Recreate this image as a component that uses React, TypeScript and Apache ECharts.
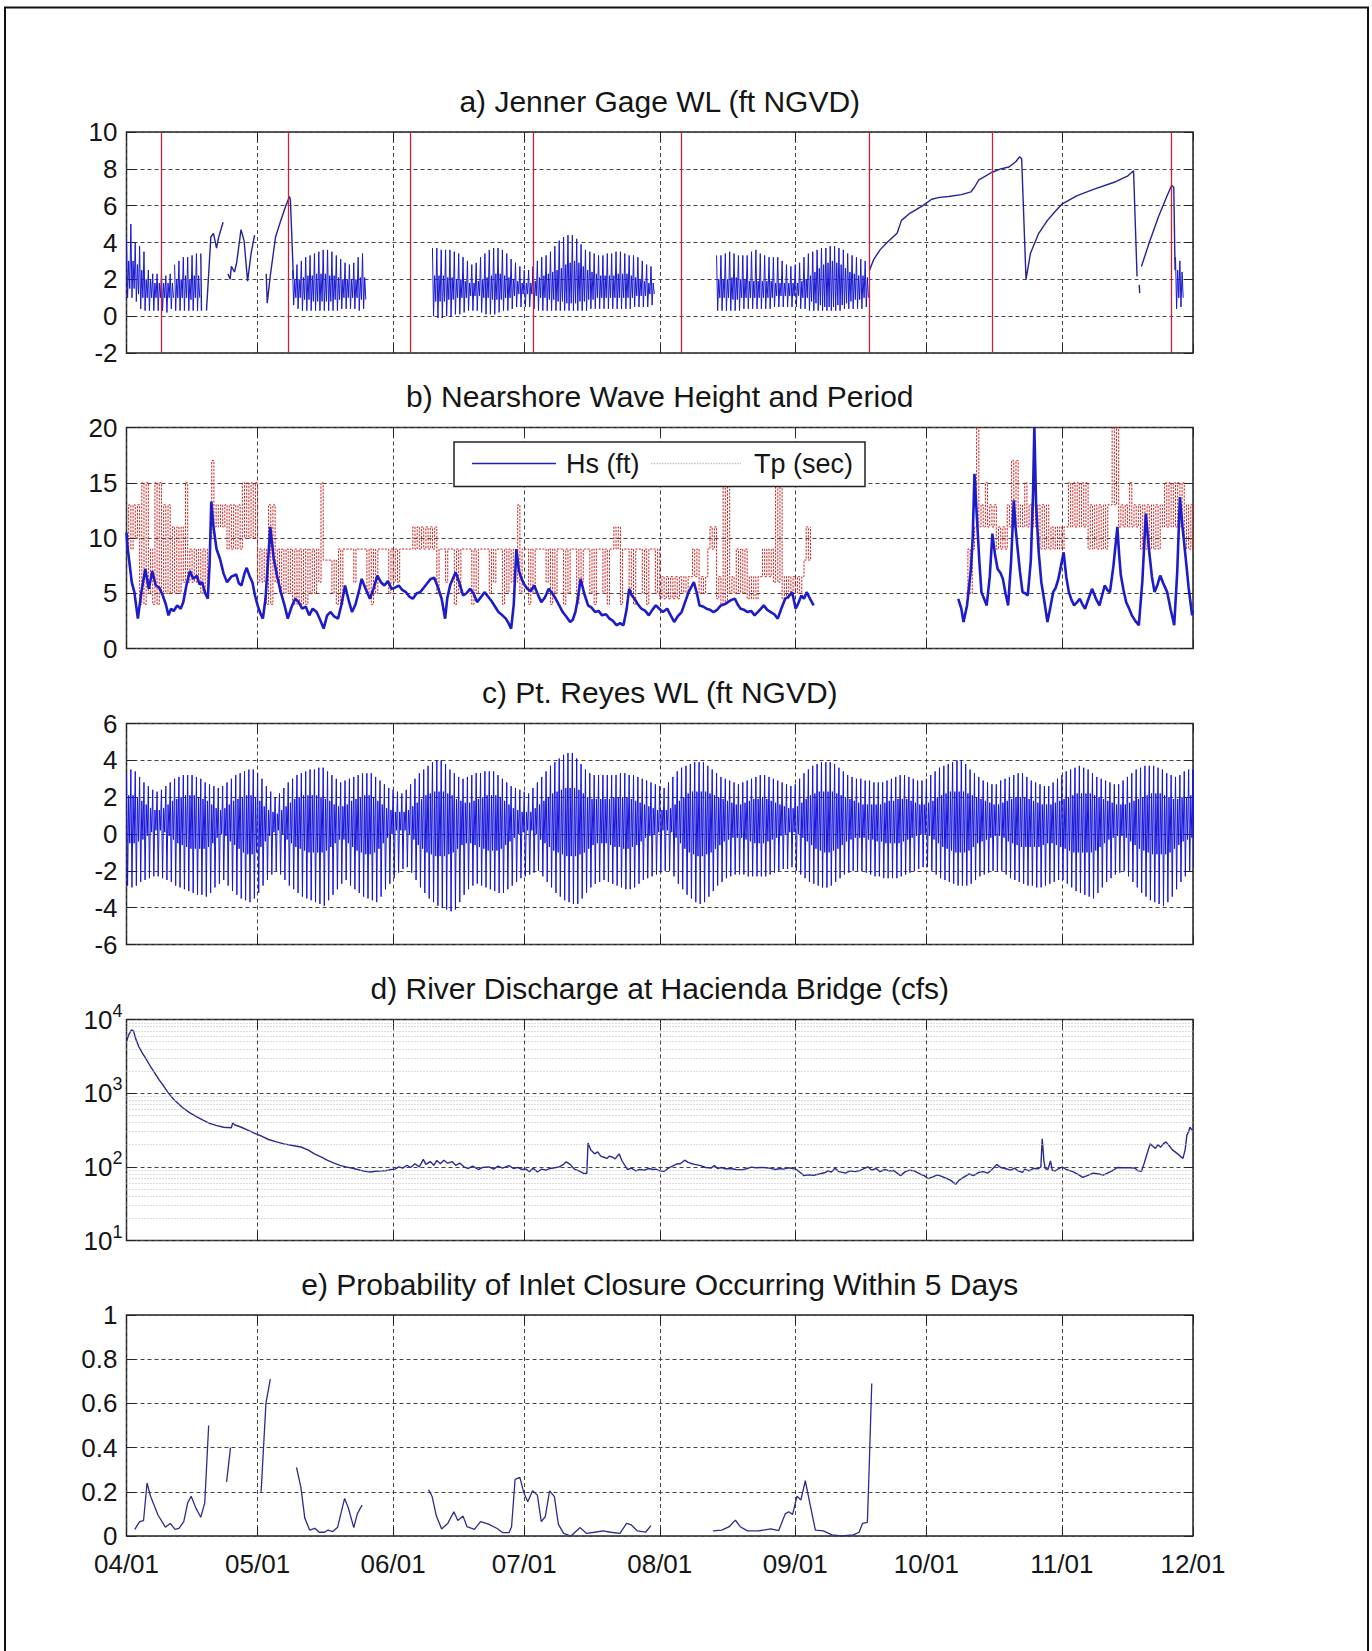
import React, { useEffect, useRef } from 'react';
import * as echarts from 'echarts';

const N = null;
// x axis = days since 04/01
const monthDays = [0, 30, 61, 91, 122, 153, 183, 214, 244];
const monthLabels = ['04/01', '05/01', '06/01', '07/01', '08/01', '09/01', '10/01', '11/01', '12/01'];
const panelTitles = [
  'a) Jenner Gage WL (ft NGVD)',
  'b) Nearshore Wave Height and Period',
  'c) Pt. Reyes WL (ft NGVD)',
  'd) River Discharge at Hacienda Bridge (cfs)',
  'e) Probability of Inlet Closure Occurring Within 5 Days',
];
const breachDays = [8, 37, 65, 93, 127, 170, 198, 239];

// ---- a) Jenner gage: tidal stretches (per day: higher high, lower low, lower high, higher low)
const jennerTideStart = [0, 11, 38, 70, 135, 240];
const jennerHH = [
  [4.2, 5.0, 4.0, 3.8, 3.5, 2.5, 2.3, 2.3, 2.3, 2.2, 2.3],
  [2.8, 3.0, 3.2, 3.2, 3.3, 3.4],
  [2.5, 2.8, 3.0, 3.2, 3.3, 3.4, 3.5, 3.6, 3.6, 3.5, 3.3, 3.1, 2.9, 2.8, 2.9, 3.2, 3.4],
  [3.7, 3.7, 3.6, 3.6, 3.6, 3.5, 3.4, 3.2, 3.0, 2.8, 2.9, 3.2, 3.4, 3.6, 3.7, 3.7, 3.6, 3.4, 3.1, 2.9,
   2.7, 2.5, 2.5, 2.7, 3.0, 3.2, 3.3, 3.5, 3.8, 4.1, 4.3, 4.4, 4.4, 4.2, 3.9, 3.6, 3.5, 3.4, 3.3, 3.3,
   3.4, 3.4, 3.5, 3.5, 3.4, 3.3, 3.3, 3.2, 3.0, 2.8, 2.7],
  [3.3, 3.3, 3.4, 3.5, 3.4, 3.3, 3.3, 3.3, 3.5, 3.6, 3.4, 3.3, 3.2, 3.2, 3.2, 3.0, 2.8, 2.7, 2.8, 2.9,
   3.2, 3.4, 3.5, 3.6, 3.7, 3.7, 3.8, 3.8, 3.7, 3.6, 3.4, 3.3, 3.2, 3.1, 3.0],
  [3.2, 3.0],
];
const jennerLL = [
  [1.0, 1.0, 0.8, 0.4, 0.3, 0.3, 0.3, 0.3, 0.3, 0.2, 0.4],
  [0.3, 0.3, 0.3, 0.3, 0.3, 0.3],
  [0.6, 0.4, 0.3, 0.3, 0.3, 0.3, 0.3, 0.3, 0.3, 0.3, 0.3, 0.4, 0.4, 0.4, 0.4, 0.3, 0.4],
  [0.0, -0.1, -0.1, 0.0, 0.0, 0.1, 0.1, 0.2, 0.3, 0.3, 0.3, 0.2, 0.1, 0.1, 0.1, 0.2, 0.3, 0.3, 0.4, 0.5,
   0.5, 0.5, 0.5, 0.4, 0.3, 0.3, 0.3, 0.3, 0.3, 0.3, 0.3, 0.3, 0.3, 0.3, 0.3, 0.3, 0.4, 0.4, 0.4, 0.4,
   0.4, 0.4, 0.4, 0.4, 0.4, 0.4, 0.5, 0.5, 0.5, 0.5, 0.6],
  [0.3, 0.3, 0.3, 0.3, 0.3, 0.3, 0.4, 0.4, 0.4, 0.4, 0.4, 0.4, 0.4, 0.5, 0.5, 0.5, 0.5, 0.5, 0.5, 0.4,
   0.4, 0.3, 0.3, 0.3, 0.3, 0.3, 0.3, 0.3, 0.3, 0.4, 0.4, 0.4, 0.4, 0.4, 0.5],
  [0.4, 0.5],
];
const jennerLH = [
  [3.0, 3.0, 2.8, 2.5, 2.0, 2.0, 1.8, 1.8, 1.8, 1.8, 1.8],
  [2.0, 2.0, 2.2, 2.0, 2.2, 2.2],
  [2.0, 2.0, 2.1, 2.2, 2.2, 2.3, 2.3, 2.3, 2.2, 2.2, 2.1, 2.0, 2.0, 2.0, 2.0, 2.1, 2.1],
  [2.2, 2.2, 2.2, 2.1, 2.1, 2.0, 2.0, 1.9, 1.8, 1.8, 1.9, 2.0, 2.1, 2.2, 2.3, 2.3, 2.2, 2.1, 2.0, 1.9,
   1.8, 1.8, 1.8, 1.9, 2.1, 2.2, 2.3, 2.4, 2.5, 2.6, 2.8, 2.9, 3.0, 2.9, 2.7, 2.5, 2.4, 2.3, 2.2, 2.2,
   2.2, 2.2, 2.3, 2.3, 2.3, 2.2, 2.1, 2.0, 1.9, 1.8, 1.8],
  [2.0, 2.0, 2.0, 2.1, 2.1, 2.0, 2.0, 1.9, 1.9, 1.9, 1.9, 1.9, 1.9, 1.8, 1.8, 1.8, 1.8, 1.8, 1.8, 1.9,
   2.0, 2.2, 2.4, 2.6, 2.8, 2.9, 3.0, 2.9, 2.8, 2.6, 2.4, 2.3, 2.2, 2.2, 2.1],
  [2.5, 2.4],
];
const jennerHL = [
  [1.5, 1.5, 1.2, 1.0, 1.0, 1.0, 1.0, 1.0, 1.0, 1.0, 1.0],
  [1.0, 1.0, 1.0, 0.9, 1.0, 1.0],
  [1.0, 1.0, 0.9, 0.9, 0.8, 0.8, 0.8, 0.8, 0.8, 0.9, 0.9, 1.0, 1.0, 1.0, 1.0, 0.9, 0.9],
  [0.8, 0.8, 0.8, 0.9, 0.9, 1.0, 1.0, 1.0, 1.1, 1.1, 1.1, 1.0, 1.0, 0.9, 0.9, 0.9, 1.0, 1.0, 1.1, 1.2,
   1.2, 1.2, 1.2, 1.1, 1.0, 1.0, 0.9, 0.9, 0.8, 0.8, 0.7, 0.7, 0.7, 0.8, 0.8, 0.9, 0.9, 1.0, 1.0, 1.0,
   1.0, 1.0, 1.0, 1.0, 1.0, 1.0, 1.1, 1.1, 1.1, 1.2, 1.2],
  [1.0, 1.0, 1.0, 0.9, 0.9, 1.0, 1.0, 1.0, 1.0, 1.0, 1.0, 1.0, 1.0, 1.1, 1.1, 1.1, 1.1, 1.1, 1.1, 1.0,
   1.0, 0.8, 0.7, 0.6, 0.5, 0.5, 0.5, 0.6, 0.6, 0.7, 0.8, 0.9, 0.9, 1.0, 1.0],
  [1.0, 1.0],
];
// a) Jenner gage: non-tidal stretches [day, ft]
const jennerDrift = [
  [[17.0, 3.4], [17.15, 0.3]],
  [[18.3, 0.3], [19.3, 4.3], [19.9, 4.5], [20.6, 3.7], [21.1, 4.3], [22.1, 5.1]],
  [[23.2, 2.3], [23.7, 2.0], [24.0, 2.7], [24.7, 2.4], [25.2, 2.9], [26.2, 4.7], [26.9, 4.1], [27.7, 1.9], [28.5, 3.4], [29.3, 4.4]],
  [[31.96, 2.3], [32.2, 0.7], [32.9, 2.2], [34.1, 4.3], [35.3, 5.2], [36.45, 6.0], [37.3, 6.5], [37.5, 6.3], [38.2, 2.0]],
  [[170.0, 2.5], [171, 3.1], [172.4, 3.6], [174, 4.0], [176.3, 4.5], [177.3, 5.2], [179.3, 5.6], [182.2, 6.0], [184.2, 6.35],
   [186, 6.45], [188.1, 6.5], [191, 6.6], [193.2, 6.75], [194, 7.0], [195, 7.4], [196.5, 7.6], [197.9, 7.8], [200, 8.0],
   [201.9, 8.1], [203.5, 8.4], [204.3, 8.65], [204.8, 8.55], [205.8, 2.0], [206.8, 3.4], [208.7, 4.5], [210.7, 5.2],
   [212.5, 5.7], [214.1, 6.1], [217.5, 6.55], [221.4, 6.9], [226.3, 7.3], [229, 7.6], [230.4, 7.9], [231.2, 2.15]],
  [[231.7, 1.7], [231.8, 1.25]],
  [[232.2, 2.7], [234, 4.0], [236.1, 5.4], [238, 6.5], [239.1, 7.1], [239.6, 7.0], [239.9, 2.5]],
];

// ---- b) waves
const hsPart1 = [
  [0, 10.5], [0.2, 9.3], [0.6, 8.0], [1.2, 6.0], [1.8, 5.1], [2.6, 2.7], [3.4, 5.1], [4.3, 7.2], [5.1, 5.4], [5.9, 7.0],
  [6.7, 5.7], [7.5, 5.5], [8.3, 4.8], [9.0, 4.0], [9.6, 3.0], [10.2, 3.6], [10.8, 3.4], [11.6, 3.9], [12.4, 3.6], [13.0, 4.2],
  [13.7, 5.7], [14.5, 7.0], [15.3, 6.3], [16.1, 6.6], [16.7, 5.8], [17.3, 6.0], [18.0, 5.0], [18.6, 4.5], [19.0, 7.5], [19.4, 13.3],
  [19.9, 11.0], [20.6, 9.0], [21.4, 8.1], [22.2, 6.8], [23.0, 6.0], [24.0, 6.5], [25.1, 6.7], [25.7, 5.9], [26.3, 5.7], [27.0, 6.8],
  [27.5, 7.3], [28.2, 6.5], [28.8, 6.0], [29.4, 4.8], [30.0, 3.9], [30.6, 3.2], [31.2, 2.7], [31.8, 4.5], [32.4, 8.0], [32.9, 11.0],
  [33.3, 9.5], [33.7, 8.1], [34.5, 6.5], [35.3, 5.1], [36.1, 4.0], [36.9, 2.7], [37.8, 3.8], [38.6, 4.5], [39.4, 4.2], [40.2, 3.6],
  [41.0, 3.8], [41.8, 3.0], [42.6, 3.6], [43.5, 3.3], [44.3, 2.6], [45.1, 1.8], [45.9, 3.0], [46.7, 3.3], [47.5, 2.9], [48.4, 2.7],
  [49.2, 4.0], [50.0, 5.7], [50.8, 4.4], [51.6, 3.3], [52.4, 4.0], [53.3, 5.4], [53.8, 6.3], [54.6, 5.5], [55.7, 4.5], [56.5, 5.4],
  [57.4, 6.6], [58.2, 6.0], [59.0, 5.7], [59.8, 6.1], [60.6, 5.4], [61.4, 5.5], [62.3, 5.7], [63.1, 5.3], [63.9, 5.1], [64.7, 4.7],
  [65.5, 4.5], [66.4, 5.0], [67.2, 5.1], [68.0, 5.5], [68.8, 5.9], [69.6, 6.3], [70.4, 6.4], [71.2, 5.6], [72.1, 4.5], [72.9, 2.7],
  [73.4, 4.6], [74.1, 5.8], [75.3, 6.9], [76.1, 6.0], [77.0, 4.8], [77.8, 5.0], [78.6, 5.4], [79.4, 5.0], [80.2, 4.2], [81.0, 4.6],
  [81.9, 5.1], [82.7, 4.7], [83.5, 4.3], [84.3, 3.8], [85.1, 3.3], [86.0, 3.0], [86.8, 2.7], [87.4, 2.3], [88.0, 1.8], [88.6, 4.0],
  [89.2, 9.0], [89.8, 7.0], [90.4, 6.3], [91.0, 5.8], [91.7, 5.4], [92.5, 5.2], [93.3, 5.7], [94.1, 4.9], [94.9, 4.2], [95.7, 4.6],
  [96.6, 5.4], [97.4, 5.0], [98.2, 4.5], [99.0, 3.9], [99.8, 3.3], [100.6, 2.9], [101.5, 2.4], [102.1, 2.6], [102.7, 3.3], [103.3, 4.6],
  [103.9, 6.3], [104.7, 5.0], [105.6, 3.9], [106.4, 3.7], [107.2, 3.3], [108.0, 3.4], [108.8, 3.0], [109.7, 3.1], [110.5, 2.7], [111.3, 2.5],
  [112.1, 2.1], [112.9, 2.3], [113.7, 2.1], [114.4, 3.5], [115.0, 5.4], [115.6, 4.8], [116.2, 4.5], [117.0, 4.0], [117.8, 3.6], [118.7, 3.4],
  [119.5, 3.0], [120.3, 3.5], [121.1, 3.9], [121.9, 3.6], [122.7, 3.3], [123.7, 3.6], [124.5, 3.0], [125.3, 2.4], [126.1, 2.9], [127.0, 3.3],
  [127.8, 4.2], [128.6, 5.1], [129.8, 6.0], [130.5, 5.0], [131.1, 3.9], [131.9, 3.8], [132.7, 3.6], [133.5, 3.5], [134.3, 3.3], [135.1, 3.5],
  [136.0, 3.9], [136.8, 4.0], [137.6, 4.2], [138.4, 4.4], [139.2, 4.5], [139.8, 4.0], [140.5, 3.6], [141.3, 3.5], [142.1, 3.3], [142.9, 3.4],
  [143.7, 3.0], [144.7, 3.4], [145.8, 3.9], [146.6, 3.5], [147.4, 3.3], [148.2, 3.1], [149.0, 2.7], [149.8, 3.6], [150.7, 4.5], [151.5, 4.7],
  [152.3, 5.1], [153.1, 3.6], [153.7, 4.1], [154.4, 4.8], [155.0, 4.5], [155.6, 5.1], [156.4, 4.5], [157.2, 3.9],
];
const hsPart2 = [
  [190.3, 4.5], [191.0, 3.6], [191.5, 2.4], [192.3, 3.9], [193.2, 7.2], [193.6, 10.0], [194.0, 15.8], [194.6, 11.6], [195.1, 8.0], [195.6, 5.1],
  [196.2, 4.5], [196.8, 3.9], [197.5, 6.5], [198.1, 10.4], [198.7, 8.5], [199.3, 7.2], [200.0, 6.8], [200.5, 6.3], [201.1, 5.0], [201.7, 3.9],
  [202.4, 8.0], [203.0, 13.4], [203.4, 11.0], [203.8, 9.3], [204.4, 7.0], [205.0, 5.1], [205.6, 5.0], [206.2, 4.8], [206.9, 8.0], [207.4, 14.0],
  [207.7, 20.0], [208.1, 13.0], [208.7, 8.7], [209.3, 6.0], [209.9, 4.5], [210.7, 2.4], [211.4, 3.8], [212.0, 5.1], [212.6, 5.5], [213.2, 6.3],
  [213.8, 7.5], [214.4, 8.7], [215.0, 6.5], [215.6, 5.1], [216.2, 4.4], [216.8, 3.9], [217.5, 4.2], [218.1, 4.5], [218.7, 4.0], [219.3, 3.6],
  [220.1, 4.5], [220.9, 5.4], [221.8, 4.5], [222.6, 3.9], [223.2, 4.8], [223.8, 5.7], [224.4, 5.3], [225.0, 5.1], [225.8, 7.5], [226.7, 11.0],
  [227.1, 8.5], [227.5, 6.6], [228.1, 5.3], [228.7, 4.2], [229.4, 3.6], [230.0, 3.0], [230.8, 2.5], [231.6, 2.1], [232.4, 6.0], [233.2, 12.2],
  [233.6, 10.5], [234.0, 8.7], [234.6, 6.5], [235.2, 5.1], [235.9, 5.8], [236.5, 6.6], [237.3, 5.8], [238.1, 5.1], [238.9, 3.5], [239.7, 2.1],
  [240.4, 7.0], [241.0, 13.7], [241.6, 11.0], [242.2, 8.7], [243.0, 5.5], [243.8, 3.0], [244, 3.4],
];
// Tp per day: the two levels it switched between (equal = steady)
const tpHigh = [
  13, 13, 13, 15, 15, 9, 15, 15, 13, 13, 11, 11, 11, 15, 9, 9, 9, 9, 9, 17,
  13, 13, 13, 13, 13, 13, 15, 15, 15, 15, 9, 9, 13, 13, 9, 9, 9, 9, 9, 9,
  9, 9, 9, 9, 15, 8, 8, 8, 9, 9, 9, 9, 9, 9, 9, 9, 9, 9, 9, 9,
  9, 9, 9, 9, 9, 11, 11, 11, 11, 11, 11, 9, 9, 9, 9, 9, 9, 9, 9, 9,
  9, 9, 9, 9, 9, 9, 9, 9, 9, 13, 9, 9, 9, 9, 9, 9, 9, 9, 9, 9,
  9, 9, 9, 9, 9, 9, 9, 9, 9, 9, 9, 11, 11, 9, 9, 9, 9, 9, 9, 9,
  9, 9, 6.5, 6.5, 6.5, 6.5, 6.5, 6.5, 6.5, 9, 9, 6.5, 6.5, 11, 11, 6.5, 15, 15, 6.5, 9,
  9, 9, 6.5, 6.5, 6.5, 9, 9, 9, 15, 15, 6.5, 6.5, 6.5, 6.5, 6.5, 11, 11,
  N, N, N, N, N, N, N, N, N, N, N, N, N, N, N, N, N, N, N, N, N, N, N, N, N, N, N, N, N, N, N, N, N, N, N,
  9, 9, 20, 13, 15, 13, 13, 11, 11, 13, 17, 17, 13, 15, 13, 13, 13, 13,
  13, 11, 11, 11, 11, 15, 15, 15, 15, 15, 13, 13, 13, 13, 13, 20, 20, 13, 13, 15,
  13, 13, 13, 13, 13, 13, 13, 15, 15, 15, 15, 15, 13, 13, 13,
];
const tpLow = [
  9, 9, 10, 4, 4, 5, 4, 4, 5, 5, 5, 5, 5, 6, 6, 6, 6, 5, 5, 10,
  11, 11, 11, 9, 9, 9, 9, 10, 10, 10, 6, 6, 4, 4, 6, 5, 5, 5, 4, 4,
  4, 4, 5, 5, 6, 8, 8, 5, 4, 4, 9, 9, 6, 9, 9, 5, 4, 5, 9, 9,
  5, 6, 6, 9, 9, 9, 9, 9, 9, 9, 9, 5, 9, 6, 9, 4, 5, 9, 9, 4,
  5, 9, 9, 5, 6, 9, 4, 5, 6, 6, 5, 9, 4, 5, 9, 9, 6, 4, 5, 9,
  4, 5, 9, 4, 6, 9, 5, 4, 9, 5, 4, 9, 9, 4, 9, 5, 4, 9, 5, 4,
  9, 5, 4.5, 4.5, 4.5, 4.5, 4.5, 5, 5, 6.5, 6.5, 5, 5, 9, 9, 4.5, 4, 4, 5, 5,
  5, 5, 4.5, 4.5, 4.5, 6.5, 6.5, 6.5, 6, 6, 4.5, 4.5, 5, 5, 5, 8, 8,
  N, N, N, N, N, N, N, N, N, N, N, N, N, N, N, N, N, N, N, N, N, N, N, N, N, N, N, N, N, N, N, N, N, N, N,
  5, 5, 11, 11, 11, 11, 11, 9, 9, 9, 11, 11, 11, 11, 11, 11, 11, 9,
  9, 9, 9, 9, 9, 11, 11, 11, 11, 11, 9, 9, 9, 9, 9, 13, 13, 11, 11, 11,
  11, 11, 9, 9, 9, 9, 9, 11, 11, 11, 11, 11, 9, 9, 9,
];

// ---- c) Pt. Reyes tide, per day
const reyesHH = [
  3.3, 3.5, 3.4, 3.1, 2.8, 2.6, 2.4, 2.3, 2.4, 2.6, 2.8, 3.0, 3.1, 3.2, 3.2, 3.2, 3.1, 3.0, 2.8, 2.7,
  2.6, 2.5, 2.6, 2.8, 3.0, 3.2, 3.3, 3.4, 3.5, 3.5, 3.3, 3.0, 2.6, 2.3, 2.0, 2.2, 2.5, 2.8, 3.0, 3.2,
  3.3, 3.4, 3.5, 3.5, 3.6, 3.6, 3.4, 3.2, 3.0, 2.8, 2.9, 3.0, 3.1, 3.2, 3.3, 3.3, 3.3, 3.1, 2.9, 2.7,
  2.5, 2.4, 2.3, 2.2, 2.4, 2.7, 3.0, 3.3, 3.5, 3.7, 3.9, 4.0, 4.0, 3.8, 3.5, 3.3, 3.1, 3.0, 3.1, 3.2,
  3.3, 3.3, 3.4, 3.4, 3.4, 3.2, 3.0, 2.8, 2.6, 2.5, 2.4, 2.3, 2.2, 2.5, 2.8, 3.1, 3.4, 3.7, 3.9, 4.1,
  4.3, 4.4, 4.4, 4.1, 3.8, 3.5, 3.3, 3.2, 3.2, 3.2, 3.2, 3.2, 3.2, 3.3, 3.3, 3.2, 3.2, 3.1, 3.0, 2.9,
  2.8, 2.7, 2.6, 2.5, 2.8, 3.1, 3.4, 3.6, 3.7, 3.8, 3.9, 3.9, 3.9, 3.7, 3.5, 3.3, 3.1, 3.0, 2.9, 2.8,
  2.7, 2.8, 2.9, 3.0, 3.1, 3.2, 3.2, 3.1, 3.0, 2.9, 2.8, 2.7, 2.6, 2.7, 3.0, 3.3, 3.5, 3.7, 3.8, 3.9,
  3.9, 3.9, 3.8, 3.6, 3.4, 3.2, 3.1, 3.0, 3.0, 2.9, 2.9, 2.8, 2.8, 2.8, 2.9, 3.0, 3.1, 3.2, 3.2, 3.1,
  3.0, 2.9, 2.9, 3.0, 3.2, 3.4, 3.6, 3.7, 3.8, 3.9, 4.0, 4.0, 3.8, 3.5, 3.3, 3.1, 2.9, 2.8, 2.7, 2.7,
  2.9, 3.0, 3.1, 3.2, 3.3, 3.3, 3.1, 2.9, 2.8, 2.7, 2.6, 2.6, 2.8, 3.0, 3.2, 3.4, 3.5, 3.6, 3.7, 3.6,
  3.5, 3.3, 3.1, 3.0, 2.9, 2.8, 2.7, 2.7, 2.9, 3.1, 3.3, 3.5, 3.6, 3.7, 3.7, 3.7, 3.6, 3.5, 3.3, 3.2,
  3.1, 3.2, 3.4, 3.5, 3.5,
];
const reyesLL = [
  -2.8, -2.9, -2.8, -2.6, -2.5, -2.4, -2.3, -2.3, -2.4, -2.5, -2.6, -2.8, -2.9, -3.0, -3.1, -3.2, -3.3, -3.3, -3.4, -3.2,
  -2.9, -2.7, -2.5, -2.8, -3.1, -3.3, -3.5, -3.6, -3.7, -3.5, -3.2, -2.8, -2.5, -2.2, -2.0, -2.2, -2.5, -2.8, -3.0, -3.2,
  -3.4, -3.5, -3.6, -3.7, -3.8, -3.9, -3.6, -3.3, -3.0, -2.7, -2.5, -2.8, -3.0, -3.2, -3.4, -3.5, -3.6, -3.7, -3.4, -3.0,
  -2.7, -2.4, -2.1, -1.9, -1.8, -2.1, -2.5, -2.9, -3.2, -3.5, -3.7, -3.9, -4.0, -4.1, -4.2, -4.1, -3.7, -3.3, -3.0, -2.8,
  -2.7, -2.8, -2.9, -3.0, -3.1, -3.2, -3.2, -3.0, -2.8, -2.6, -2.4, -2.3, -2.2, -2.1, -2.0, -2.3, -2.6, -2.9, -3.2, -3.4,
  -3.6, -3.7, -3.8, -3.8, -3.5, -3.2, -2.9, -2.7, -2.6, -2.5, -2.6, -2.7, -2.8, -2.9, -3.0, -3.0, -2.9, -2.7, -2.5, -2.4,
  -2.3, -2.2, -2.1, -2.0, -2.0, -2.3, -2.7, -3.0, -3.3, -3.5, -3.7, -3.8, -3.7, -3.4, -3.1, -2.8, -2.6, -2.4, -2.3, -2.2,
  -2.2, -2.2, -2.3, -2.3, -2.3, -2.3, -2.3, -2.2, -2.1, -2.0, -1.9, -1.9, -1.8, -2.0, -2.2, -2.4, -2.6, -2.7, -2.8, -2.9,
  -2.9, -2.8, -2.6, -2.4, -2.2, -2.1, -2.0, -2.0, -2.0, -2.1, -2.2, -2.3, -2.3, -2.4, -2.4, -2.4, -2.4, -2.3, -2.2, -2.1,
  -2.0, -1.9, -1.8, -1.8, -2.0, -2.2, -2.4, -2.5, -2.6, -2.7, -2.8, -2.8, -2.8, -2.7, -2.5, -2.3, -2.2, -2.1, -2.0, -2.0,
  -2.0, -2.2, -2.4, -2.5, -2.6, -2.7, -2.8, -2.8, -2.9, -2.9, -2.8, -2.7, -2.6, -2.5, -2.5, -2.7, -2.9, -3.1, -3.2, -3.3,
  -3.4, -3.5, -3.2, -2.9, -2.6, -2.4, -2.2, -2.1, -2.0, -2.3, -2.6, -2.9, -3.2, -3.4, -3.6, -3.7, -3.8, -3.9, -3.7, -3.4,
  -3.0, -2.6, -2.3, -2.0, -1.8,
];
const reyesLH = [
  2.1, 2.1, 2.0, 1.8, 1.6, 1.4, 1.3, 1.3, 1.4, 1.6, 1.8, 1.9, 2.0, 2.1, 2.1, 2.1, 2.0, 1.9, 1.8, 1.6,
  1.4, 1.3, 1.4, 1.6, 1.8, 1.9, 2.0, 2.1, 2.1, 2.0, 1.8, 1.5, 1.3, 1.2, 1.1, 1.3, 1.5, 1.7, 1.9, 2.0,
  2.1, 2.1, 2.1, 2.1, 2.0, 1.9, 1.8, 1.6, 1.5, 1.5, 1.6, 1.8, 1.9, 2.0, 2.1, 2.1, 2.0, 1.8, 1.6, 1.4,
  1.3, 1.2, 1.2, 1.2, 1.3, 1.5, 1.7, 1.9, 2.1, 2.2, 2.3, 2.3, 2.3, 2.2, 2.1, 1.9, 1.8, 1.7, 1.7, 1.8,
  1.9, 2.0, 2.1, 2.1, 2.1, 2.0, 1.8, 1.6, 1.4, 1.3, 1.2, 1.2, 1.2, 1.4, 1.6, 1.8, 2.0, 2.2, 2.3, 2.4,
  2.5, 2.5, 2.5, 2.4, 2.2, 2.0, 1.9, 1.9, 1.9, 1.9, 1.9, 2.0, 2.0, 2.0, 2.0, 1.9, 1.8, 1.7, 1.6, 1.5,
  1.4, 1.3, 1.3, 1.3, 1.4, 1.6, 1.8, 2.0, 2.2, 2.3, 2.3, 2.3, 2.3, 2.2, 2.1, 2.0, 1.9, 1.8, 1.7, 1.6,
  1.6, 1.7, 1.8, 1.9, 1.9, 2.0, 1.9, 1.8, 1.7, 1.6, 1.5, 1.4, 1.4, 1.5, 1.7, 1.9, 2.1, 2.2, 2.3, 2.3,
  2.3, 2.3, 2.2, 2.1, 2.0, 1.9, 1.8, 1.7, 1.6, 1.6, 1.6, 1.6, 1.6, 1.7, 1.8, 1.8, 1.9, 1.9, 1.9, 1.8,
  1.7, 1.6, 1.6, 1.7, 1.8, 2.0, 2.1, 2.2, 2.3, 2.3, 2.3, 2.3, 2.2, 2.1, 2.0, 1.9, 1.8, 1.7, 1.6, 1.6,
  1.7, 1.8, 1.9, 2.0, 2.0, 2.0, 1.9, 1.8, 1.7, 1.6, 1.6, 1.6, 1.7, 1.8, 1.9, 2.0, 2.1, 2.2, 2.2, 2.2,
  2.2, 2.1, 2.0, 1.9, 1.8, 1.7, 1.6, 1.6, 1.6, 1.7, 1.8, 1.9, 2.0, 2.1, 2.2, 2.2, 2.2, 2.1, 2.0, 1.9,
  1.9, 2.0, 2.0, 2.1, 2.1,
];
const reyesHL = [
  -0.5, -0.5, -0.4, -0.3, -0.1, 0.1, 0.2, 0.2, 0.1, -0.1, -0.3, -0.5, -0.6, -0.7, -0.8, -0.8, -0.8, -0.8, -0.7, -0.5,
  -0.2, 0.0, -0.1, -0.4, -0.6, -0.8, -1.0, -1.1, -1.1, -1.0, -0.7, -0.4, -0.1, 0.1, 0.2, 0.0, -0.3, -0.5, -0.7, -0.8,
  -0.9, -1.0, -1.0, -1.0, -1.0, -0.9, -0.7, -0.5, -0.3, -0.3, -0.5, -0.7, -0.9, -1.0, -1.1, -1.1, -1.0, -0.8, -0.5, -0.2,
  0.0, 0.2, 0.2, 0.2, 0.0, -0.3, -0.6, -0.8, -1.0, -1.1, -1.2, -1.2, -1.2, -1.1, -1.0, -0.8, -0.6, -0.5, -0.5, -0.6,
  -0.7, -0.8, -0.9, -0.9, -0.9, -0.8, -0.6, -0.4, -0.2, 0.0, 0.1, 0.2, 0.2, 0.0, -0.3, -0.5, -0.7, -0.9, -1.0, -1.1,
  -1.2, -1.2, -1.2, -1.1, -1.0, -0.8, -0.6, -0.5, -0.5, -0.5, -0.6, -0.7, -0.7, -0.8, -0.8, -0.7, -0.6, -0.4, -0.2, -0.1,
  0.0, 0.1, 0.2, 0.2, 0.1, -0.2, -0.5, -0.8, -1.0, -1.1, -1.2, -1.2, -1.1, -1.0, -0.8, -0.6, -0.4, -0.3, -0.2, -0.2,
  -0.2, -0.3, -0.4, -0.5, -0.5, -0.5, -0.4, -0.3, -0.2, -0.1, 0.0, 0.1, 0.1, 0.0, -0.2, -0.4, -0.6, -0.8, -0.9, -1.0,
  -1.0, -0.9, -0.8, -0.6, -0.4, -0.3, -0.2, -0.2, -0.2, -0.3, -0.3, -0.4, -0.4, -0.5, -0.5, -0.5, -0.5, -0.4, -0.3, -0.2,
  -0.1, 0.0, 0.0, -0.1, -0.3, -0.5, -0.7, -0.8, -0.9, -1.0, -1.0, -1.0, -0.9, -0.7, -0.5, -0.4, -0.3, -0.2, -0.1, -0.1,
  -0.2, -0.4, -0.5, -0.6, -0.7, -0.7, -0.7, -0.7, -0.7, -0.6, -0.5, -0.5, -0.6, -0.7, -0.8, -0.9, -1.0, -1.0, -1.0, -1.0,
  -1.0, -0.9, -0.7, -0.5, -0.3, -0.2, -0.1, -0.1, -0.2, -0.4, -0.6, -0.8, -0.9, -1.0, -1.1, -1.1, -1.1, -1.1, -1.0, -0.8,
  -0.6, -0.4, -0.3, -0.2, -0.2,
];

// ---- d) discharge [day, cfs]
const flowCfs = [
  [0, 5000], [0.5, 6200], [1.1, 7200], [1.6, 7000], [2.1, 5500], [2.8, 4300], [3.5, 3600], [4.5, 2900], [5.5, 2300], [6.3, 1950],
  [7.5, 1500], [8.5, 1250], [9.6, 1000], [11, 800], [12.8, 640], [14.5, 540], [16, 480], [17.5, 430], [19, 390], [20.5, 365],
  [22.2, 345], [24, 340], [24.3, 395], [24.8, 370], [26, 350], [27.5, 320], [29.6, 280], [31, 260], [32.5, 235], [34.3, 218],
  [36, 205], [38, 195], [39.9, 186], [41.5, 170], [43, 150], [44.6, 135], [46, 122], [47.5, 112], [49, 104], [50.2, 100],
  [52, 95], [53.5, 90], [55, 86], [55.8, 85], [57, 87], [58.5, 88], [59.5, 89], [60.5, 92], [61.4, 93], [62.3, 100],
  [63.2, 96], [64.2, 105], [65, 98], [66, 110], [67, 100], [67.9, 126], [68.5, 108], [69.5, 118], [70.3, 105], [71, 122],
  [71.8, 110], [72.6, 123], [73.5, 112], [74.5, 118], [75.3, 105], [76.3, 112], [77.2, 100], [78.2, 95], [79.2, 102], [80.5, 92],
  [81.5, 98], [82.9, 100], [84, 93], [85, 102], [86, 96], [87.5, 104], [88.5, 95], [89.5, 98], [90.5, 92], [91.3, 94],
  [92.2, 86], [93, 96], [94, 85], [95, 93], [96, 90], [96.9, 95], [98, 97], [99, 100], [100, 108], [100.6, 117],
  [101.5, 108], [102.5, 93], [103.5, 88], [104.5, 82], [105.3, 81], [105.6, 210], [106.2, 170], [107.1, 150], [107.8, 160], [108.5, 140],
  [109.2, 135], [109.9, 130], [110.5, 140], [111.2, 135], [111.8, 128], [112.7, 150], [113.4, 120], [114.6, 92], [115.5, 96], [116.5, 88],
  [117.4, 92], [118.5, 90], [119.5, 95], [120.5, 92], [121.1, 93], [122, 88], [123, 87], [124, 96], [124.9, 102], [126, 110],
  [126.7, 110], [127.7, 123], [128.5, 115], [129, 112], [130, 108], [131.4, 104], [132.5, 98], [133.7, 96], [134.5, 104], [135.2, 95],
  [136.1, 98], [137, 94], [138.5, 94], [139.5, 92], [140.8, 91], [142, 95], [143, 99], [144, 97], [145.5, 98], [147.1, 96],
  [148.5, 92], [149.5, 95], [150.3, 93], [151.5, 97], [153.1, 93], [154, 85], [155, 76], [156, 78], [157.2, 77], [158.5, 80],
  [159.7, 83], [160.5, 88], [161.3, 85], [162.1, 96], [163, 86], [164.5, 82], [165.5, 88], [166.8, 86], [168, 90], [169.6, 100],
  [170.5, 90], [171.5, 95], [172.4, 86], [173.5, 92], [174.5, 88], [175.5, 89], [176.3, 82], [177.1, 76], [178.2, 86], [179.2, 90],
  [180.2, 88], [181.5, 80], [182.5, 76], [183.4, 69], [184.5, 73], [185.5, 78], [186.5, 74], [187.5, 70], [188.5, 66], [189.7, 58],
  [190.5, 66], [191.5, 72], [192.8, 80], [193.8, 76], [195, 84], [196, 86], [197, 82], [198, 92], [199.1, 108], [200, 98],
  [201, 95], [202.3, 90], [203.2, 96], [204, 88], [205, 84], [205.5, 93], [206.5, 88], [207.5, 95], [208.6, 94], [209.2, 100],
  [209.5, 240], [209.9, 120], [210.2, 95], [210.8, 92], [211.4, 120], [211.8, 90], [212.5, 88], [213.3, 95], [214.1, 99], [215, 92],
  [216.5, 86], [217.5, 80], [218.8, 72], [219.8, 76], [221.2, 82], [222.5, 80], [223.5, 77], [224.4, 82], [225.5, 88], [226.7, 98],
  [228, 97], [229.5, 97], [230.7, 96], [231.5, 88], [232.2, 87], [232.8, 110], [233.4, 145], [234.2, 205], [234.8, 190], [235.4, 178],
  [236, 200], [236.6, 185], [237.2, 205], [237.8, 218], [238.5, 195], [239.3, 170], [240.5, 150], [241.7, 130], [242.2, 170], [242.6, 270],
  [243, 300], [243.3, 345], [243.7, 320], [244, 315],
];
const flowMinorGrid = [20, 30, 40, 50, 60, 70, 80, 90, 200, 300, 400, 500, 600, 700, 800, 900, 2000, 3000, 4000, 5000, 6000, 7000, 8000, 9000];

// ---- e) closure probability segments [day, p]
const closureProb = [
  [[1.9, 0.03], [3, 0.065], [3.9, 0.07], [4.7, 0.24], [5.5, 0.18], [7.2, 0.095], [8.9, 0.04], [10, 0.057], [11.1, 0.03], [12, 0.035],
   [13.1, 0.065], [14, 0.15], [14.8, 0.18], [15.9, 0.125], [17, 0.085], [17.9, 0.15], [18.8, 0.5]],
  [[22.9, 0.245], [23.8, 0.40]],
  [[30.8, 0.2], [31.9, 0.6], [32.9, 0.71]],
  [[38.9, 0.31], [39.9, 0.22], [40.8, 0.08], [41.9, 0.027], [43.1, 0.035], [44.1, 0.017], [45.3, 0.017], [46.1, 0.027], [47.2, 0.02],
   [48.3, 0.04], [49.9, 0.17], [50.7, 0.13], [52, 0.038], [52.8, 0.10], [53.9, 0.14]],
  [[69.1, 0.21], [69.9, 0.18], [70.9, 0.09], [72.1, 0.032], [73.5, 0.057], [74.9, 0.11], [75.8, 0.07], [77, 0.09], [77.9, 0.042],
   [79.6, 0.03], [81, 0.065], [82.8, 0.054], [84.7, 0.035], [86.1, 0.015], [87.5, 0.015], [88.1, 0.042], [88.9, 0.256], [90, 0.265],
   [90.9, 0.196], [91.8, 0.155], [92.9, 0.205], [94, 0.185], [94.9, 0.065], [95.8, 0.087], [96.8, 0.204], [97.9, 0.178], [98.8, 0.054],
   [100, 0.012], [101.7, 0.0], [103.8, 0.038], [105.2, 0.012], [107.1, 0.017], [109, 0.023], [110.8, 0.017], [112.9, 0.012],
   [114.4, 0.057], [115.5, 0.05], [116.9, 0.023], [118.8, 0.018], [120, 0.047]],
  [[134.2, 0.023], [136.2, 0.027], [137.9, 0.042], [139.3, 0.072], [140.4, 0.042], [142.1, 0.023], [144.6, 0.023], [147.4, 0.032],
   [149.2, 0.024], [150.7, 0.10], [151.5, 0.11], [152.4, 0.098], [153.4, 0.18], [154.3, 0.163], [155.3, 0.25], [156.5, 0.133],
   [157.6, 0.027], [159.4, 0.023], [161.4, 0.005], [163.5, 0.0], [166.3, 0.005], [167.6, 0.017], [168.4, 0.057], [169.5, 0.062],
   [169.9, 0.3], [170.5, 0.69]],
];

// ---------------- layout / style ----------------
const FONT = "'Liberation Sans', Arial, Helvetica, sans-serif";
const TXT = '#151515';
const GRID_L = 126.5;
const GRID_W = 1066.5;
const GRID_H = 221;
const gridTops = [132, 427.5, 723.5, 1019.5, 1315];

function tidePoints(start: number, hh: number[], ll: number[], lh: number[], hl: number[]) {
  const pts: number[][] = [];
  for (let i = 0; i < hh.length; i++) {
    const d = start + i;
    pts.push([d, hh[i]], [d + 0.25, ll[i]], [d + 0.5, lh[i]], [d + 0.75, hl[i]]);
  }
  return pts;
}

function tpPoints(from: number, to: number) {
  const pts: number[][] = [];
  for (let d = from; d <= to; d++) {
    if (tpHigh[d] == null || tpLow[d] == null) continue;
    pts.push([d, tpLow[d] as number], [d + 0.5, tpHigh[d] as number]);
  }
  return pts;
}

function buildOption() {
  const grids = gridTops.map((t) => ({
    left: GRID_L, top: t, width: GRID_W, height: GRID_H,
    show: true, borderColor: '#222', borderWidth: 1.5, backgroundColor: 'transparent',
    containLabel: false, outerBoundsMode: 'none',
  }));

  const xAxes: any[] = [];
  for (const pos of ['bottom', 'top']) {
    for (let i = 0; i < 5; i++) {
      xAxes.push({
        type: 'value', gridIndex: i, position: pos, min: 0, max: 244,
        axisLine: { show: false, onZero: false },
        axisTick: { show: true, inside: true, length: 9, customValues: monthDays, lineStyle: { color: '#222', width: 1 } },
        axisLabel: {
          show: pos === 'bottom' && i === 4, customValues: monthDays,
          formatter: (v: number) => monthLabels[monthDays.indexOf(Math.round(v))] ?? '',
          margin: 15, fontSize: 26, lineHeight: 26, fontFamily: FONT, color: TXT,
        },
        splitLine: { show: pos === 'bottom', lineStyle: { color: '#444', type: [4, 3], width: 1 } },
      });
    }
  }

  const yDefs: any[] = [
    { type: 'value', min: -2, max: 10, interval: 2 },
    { type: 'value', min: 0, max: 20, interval: 5 },
    { type: 'value', min: -6, max: 6, interval: 2 },
    { type: 'log', min: 10, max: 10000, logBase: 10 },
    { type: 'value', min: 0, max: 1, interval: 0.2 },
  ];
  const yAxes: any[] = [];
  for (const pos of ['left', 'right']) {
    yDefs.forEach((d, i) => {
      const isLog = d.type === 'log';
      yAxes.push({
        ...d, gridIndex: i, position: pos,
        axisLine: { show: false, onZero: false },
        axisTick: { show: true, inside: true, length: 9, lineStyle: { color: '#222', width: 1 } },
        axisLabel: pos === 'left'
          ? (isLog
            ? {
              show: true, margin: 4, fontFamily: FONT, color: TXT,
              formatter: (v: number) => `{b|10}{s|${Math.round(Math.log10(v))}}`,
              rich: {
                b: { fontSize: 26, lineHeight: 36, fontFamily: FONT, color: TXT },
                s: { fontSize: 18, lineHeight: 14, verticalAlign: 'top', fontFamily: FONT, color: TXT },
              },
            }
            : { show: true, margin: 9, fontSize: 26, lineHeight: 20, fontFamily: FONT, color: TXT })
          : { show: false },
        splitLine: { show: pos === 'left', lineStyle: { color: '#444', type: [4, 3], width: 1 } },
      });
    });
  }

  const series: any[] = [];
  const lineS = (g: number, data: any[], color: string, width: number, extra: any = {}) => {
    series.push({
      type: 'line', xAxisIndex: g, yAxisIndex: g, data, symbol: 'none', showSymbol: false,
      lineStyle: { color, width }, silent: true, animation: false, z: 3, ...extra,
    });
  };

  // a)
  jennerTideStart.forEach((s, k) => lineS(0, tidePoints(s, jennerHH[k], jennerLL[k], jennerLH[k], jennerHL[k]), '#1818d0', 1));
  jennerDrift.forEach((seg) => lineS(0, seg, '#22229a', 1.4));
  series.push({
    type: 'line', xAxisIndex: 0, yAxisIndex: 0, data: [], silent: true, z: 5,
    markLine: {
      silent: true, symbol: ['none', 'none'], label: { show: false }, animation: false,
      lineStyle: { color: '#cc2038', width: 1.3, type: 'solid' },
      data: breachDays.map((d) => ({ xAxis: d })),
    },
  });

  // b)
  const tpStyle = { step: 'end', lineStyle: { color: '#cc1f1f', width: 1, type: [2.2, 1.3] } };
  lineS(1, tpPoints(0, 156), '#cc1f1f', 1, tpStyle);
  lineS(1, tpPoints(192, 244), '#cc1f1f', 1, tpStyle);
  lineS(1, hsPart1, '#1c1cc8', 2.6, { z: 4 });
  lineS(1, hsPart2, '#1c1cc8', 2.6, { z: 4 });

  // c)
  lineS(2, tidePoints(0, reyesHH, reyesLL, reyesLH, reyesHL), '#1414dc', 1);

  // d)
  series.push({
    type: 'line', xAxisIndex: 3, yAxisIndex: 3, data: [], silent: true, z: 2,
    markLine: {
      silent: true, symbol: ['none', 'none'], label: { show: false }, animation: false,
      lineStyle: { color: '#b8b8b8', width: 1, type: [1, 2] },
      data: flowMinorGrid.map((v) => ({ yAxis: v })),
    },
  });
  lineS(3, flowCfs, '#2a2a92', 1.4, { z: 4 });

  // e)
  closureProb.forEach((seg) => lineS(4, seg, '#2c2c8c', 1.3));

  const graphic: any[] = [
    {
      type: 'rect', silent: true, z: 0,
      shape: { x: 5, y: 7.5, width: 1363, height: 1700 },
      style: { fill: 'none', stroke: '#111', lineWidth: 2 },
    },
    ...panelTitles.map((t, i) => ({
      type: 'text', silent: true, z: 10,
      x: GRID_L + GRID_W / 2, y: gridTops[i] - 31,
      style: {
        text: t, font: `30px ${FONT}`, fill: TXT,
        align: 'center', verticalAlign: 'middle', textAlign: 'center', textVerticalAlign: 'middle',
      },
    })),
    {
      type: 'group', silent: true, z: 50,
      children: [
        { type: 'rect', z: 50, shape: { x: 454, y: 442, width: 411, height: 44.5 }, style: { fill: '#fff', stroke: '#222', lineWidth: 1.5 } },
        { type: 'line', z: 51, shape: { x1: 472, y1: 463.5, x2: 556, y2: 463.5 }, style: { stroke: '#1c1cc8', lineWidth: 1.5 } },
        {
          type: 'text', z: 51, x: 566, y: 464,
          style: { text: 'Hs (ft)', font: `27px ${FONT}`, fill: TXT, align: 'left', verticalAlign: 'middle', textAlign: 'left', textVerticalAlign: 'middle' },
        },
        { type: 'line', z: 51, shape: { x1: 651, y1: 463.5, x2: 741, y2: 463.5 }, style: { stroke: '#c4c4c4', lineWidth: 1.5, lineDash: [1.5, 1.2] } },
        {
          type: 'text', z: 51, x: 754, y: 464,
          style: { text: 'Tp (sec)', font: `27px ${FONT}`, fill: TXT, align: 'left', verticalAlign: 'middle', textAlign: 'left', textVerticalAlign: 'middle' },
        },
      ],
    },
  ];

  return {
    animation: false,
    backgroundColor: '#ffffff',
    grid: grids,
    xAxis: xAxes,
    yAxis: yAxes,
    series,
    graphic,
  };
}

export default function App() {
  const ref = useRef<HTMLDivElement | null>(null);
  useEffect(() => {
    if (!ref.current) return;
    const chart = echarts.init(ref.current, undefined, { renderer: 'svg' });
    chart.setOption(buildOption() as any);
    return () => chart.dispose();
  }, []);
  return (
    <div
      ref={ref}
      style={{ position: 'absolute', left: 0, top: 0, width: 1372, height: 1651, background: '#fff' }}
    />
  );
}
